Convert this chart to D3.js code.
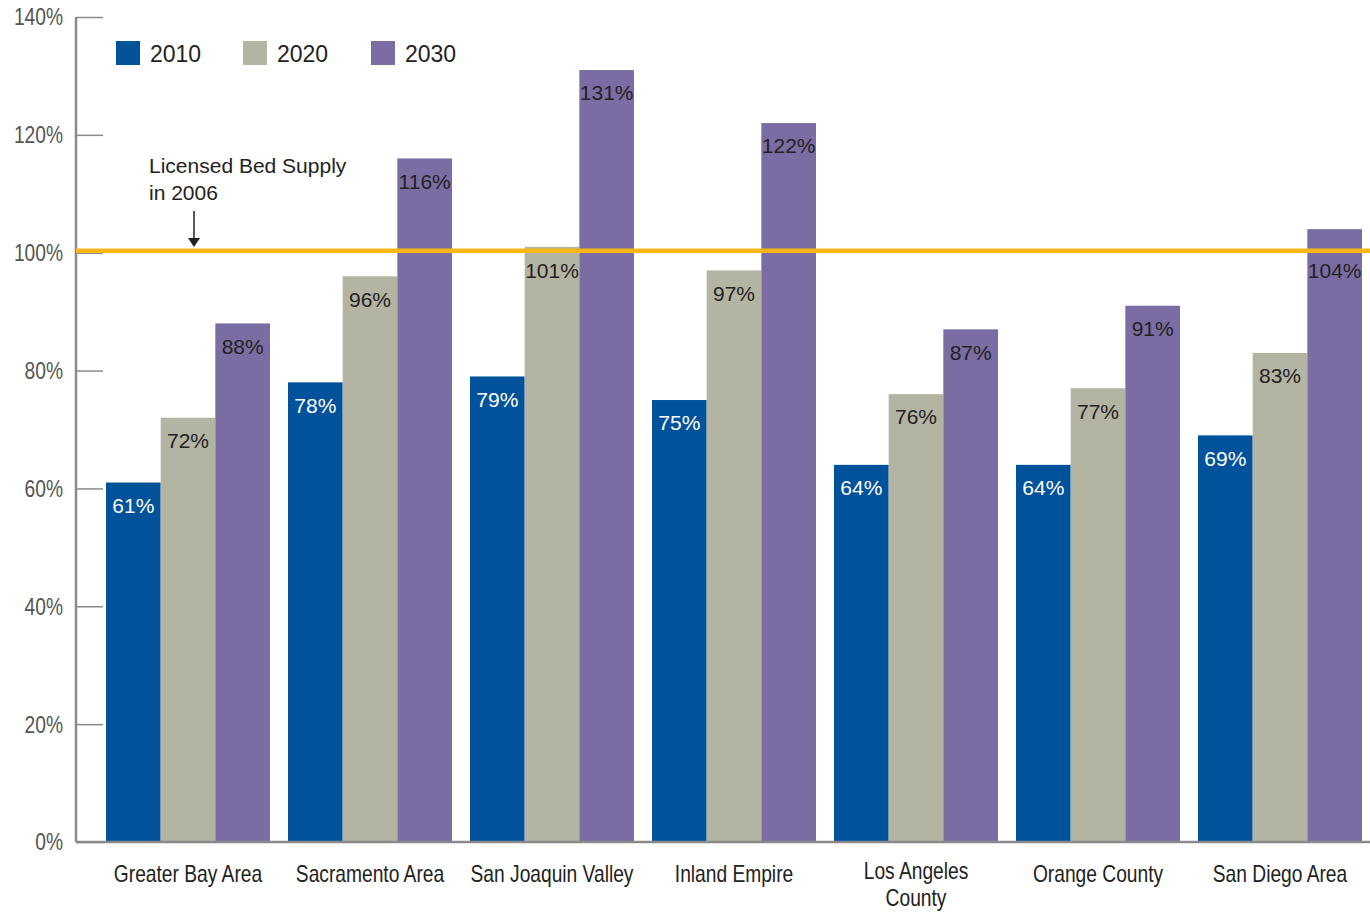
<!DOCTYPE html>
<html>
<head>
<meta charset="utf-8">
<script src="https://cdn.jsdelivr.net/npm/d3@7"></script>
<style>
  html, body { margin: 0; padding: 0; background: #fff; }
  svg { display: block; }
</style>
</head>
<body>
<svg id="chart" width="1370" height="912"></svg>
<script>
// Regions and projected bed demand as a share of 2006 licensed supply
const regions = ["Greater Bay Area", "Sacramento Area", "San Joaquin Valley", "Inland Empire", "Los Angeles|County", "Orange County", "San Diego Area"];
const years = ["2010", "2020", "2030"];
const values2010 = [61, 78, 79, 75, 64, 64, 69];
const values2020 = [72, 96, 101, 97, 76, 77, 83];
const values2030 = [88, 116, 131, 122, 87, 91, 104];
const yTicks = [0, 20, 40, 60, 80, 100, 120, 140];
const supplyLevel = 100;

const colors = { "2010": "#00529B", "2020": "#B4B4A2", "2030": "#7B6CA3" };
const labelColors = { "2010": "#ffffff", "2020": "#222222", "2030": "#222222" };

const seriesByYear = { "2010": values2010, "2020": values2020, "2030": values2030 };
const rows = regions.map((r, i) => ({ region: r, values: years.map(y => ({ year: y, value: seriesByYear[y][i] })) }));

const svg = d3.select("#chart");
const axisX = 76, plotRight = 1370, plotTop = 17, plotBottom = 842;

const y = d3.scaleLinear().domain([0, 140]).range([plotBottom, plotTop]);
const pad = 18 / 182;
const x0 = d3.scaleBand().domain(regions).range([97, 1371]).paddingInner(pad).paddingOuter(pad / 2);
const x1 = d3.scaleBand().domain(years).range([0, x0.bandwidth()]);

const regular = "'Liberation Sans', Arial, Helvetica, sans-serif";
const narrowScale = 0.8; // horizontally condensed axis type

// Bars
const groups = svg.append("g").selectAll("g").data(rows).join("g")
  .attr("transform", d => `translate(${x0(d.region)},0)`);

groups.selectAll("rect").data(d => d.values).join("rect")
  .attr("x", d => x1(d.year))
  .attr("y", d => y(d.value))
  .attr("width", x1.bandwidth())
  .attr("height", d => y(0) - y(d.value))
  .attr("fill", d => colors[d.year]);

// Y axis: left rule with ticks pointing into the plot
const yAxis = d3.axisRight(y).tickValues(yTicks).tickSize(27).tickFormat("");
const yg = svg.append("g").attr("transform", `translate(${axisX},0)`).call(yAxis);
yg.select(".domain").remove();
yg.selectAll(".tick line").attr("stroke", "#8a8a8a").attr("stroke-width", 1.5);
svg.append("line").attr("x1", axisX).attr("x2", axisX).attr("y1", plotTop).attr("y2", plotBottom)
  .attr("stroke", "#8a8a8a").attr("stroke-width", 2.5);

svg.append("g").selectAll("text").data(yTicks).join("text")
  .attr("transform", d => `translate(63,${y(d)}) scale(${narrowScale},1)`)
  .attr("dy", "0.35em")
  .attr("text-anchor", "end")
  .style("font-family", regular).style("font-size", "24px").attr("fill", "#555")
  .text(d => d + "%");

// Baseline
svg.append("line").attr("x1", axisX).attr("x2", plotRight).attr("y1", y(0)).attr("y2", y(0))
  .attr("stroke", "#8a8a8a").attr("stroke-width", 2.5);

// Category labels (two-line names start slightly higher)
const catLabels = svg.append("g").selectAll("text").data(regions).join("text")
  .attr("transform", d => `translate(${x0(d) + x0.bandwidth() / 2},${d.includes("|") ? 871 : 874}) scale(${narrowScale},1)`)
  .attr("text-anchor", "middle")
  .style("font-family", regular).style("font-size", "24px").attr("fill", "#222");
catLabels.each(function (d) {
  const lines = d.split("|");
  d3.select(this).selectAll("tspan").data(lines).join("tspan")
    .attr("x", 0)
    .attr("dy", (l, i) => i === 0 ? "0.35em" : "27px")
    .text(l => l);
});

// Supply reference line
const lineY = y(supplyLevel) - 2;
svg.append("line").attr("x1", axisX).attr("x2", plotRight).attr("y1", lineY).attr("y2", lineY)
  .attr("stroke", "#F9B715").attr("stroke-width", 4.5);

// Value labels inside bar tops, kept clear of the supply line
const minLabelY = y(supplyLevel) + 18;
groups.selectAll("text.val").data(d => d.values).join("text")
  .attr("class", "val")
  .attr("x", d => x1(d.year) + x1.bandwidth() / 2)
  .attr("y", d => {
    const c = y(d.value) + 23;
    return (c > lineY - 14 && c < minLabelY) ? minLabelY : c;
  })
  .attr("dy", "0.35em")
  .attr("text-anchor", "middle")
  .style("font-family", regular).style("font-size", "21px")
  .attr("fill", d => labelColors[d.year])
  .text(d => d.value + "%");

// Legend
const legend = svg.append("g").selectAll("g").data(years).join("g")
  .attr("transform", (d, i) => `translate(${[116, 243, 371][i]},41)`);
legend.append("rect").attr("width", 24).attr("height", 24).attr("fill", d => colors[d]);
legend.append("text").attr("x", 34).attr("y", 13).attr("dy", "0.35em")
  .style("font-family", regular).style("font-size", "23px").attr("fill", "#222")
  .text(d => d);

// Annotation
const note = svg.append("text").attr("x", 149).attr("y", 166)
  .style("font-family", regular).style("font-size", "21px").attr("fill", "#222");
note.append("tspan").attr("x", 149).attr("dy", "0.35em").text("Licensed Bed Supply");
note.append("tspan").attr("x", 149).attr("dy", "1.25em").text("in 2006");

svg.append("line").attr("x1", 194).attr("x2", 194).attr("y1", 211).attr("y2", 240)
  .attr("stroke", "#222").attr("stroke-width", 1.5);
svg.append("path").attr("d", "M188,238 L194,247 L200,238 Z").attr("fill", "#222");
</script>
</body>
</html>
